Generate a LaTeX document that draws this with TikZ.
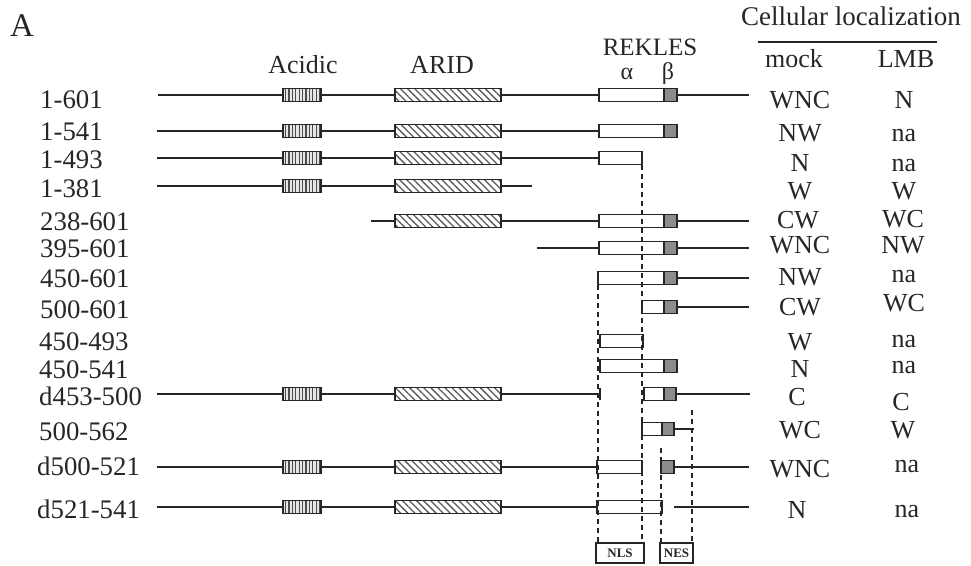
\documentclass[tikz,border=0pt]{standalone}
\usepackage{fontspec}
\setmainfont{Liberation Serif}
\usetikzlibrary{patterns.meta}
\newcommand\acidB[1]{\draw[acidbox] (283,#1-6.5) rectangle (321,#1+6.5);}
\newcommand\aridB[1]{\draw[aridbox] (395,#1-6.5) rectangle (501,#1+6.5);}
\newcommand\whiteB[3]{\draw[wbox] (#1,#3-6.5) rectangle (#2,#3+6.5);}
\newcommand\grayB[3]{\draw[gbox] (#1,#3-6.5) rectangle (#2,#3+6.5);}
\newcommand\protL[3]{\draw[prot] (#1,#3) -- (#2,#3);}
\begin{document}
\begin{tikzpicture}[x=1pt,y=-1pt,
 ink/.style={black!85},
 prot/.style={line width=2.6pt, draw=black!85},
 bx/.style={line width=1.4pt, draw=black!85},
 wbox/.style={bx, fill=white},
 gbox/.style={bx, fill=black!45},
 acidbox/.style={bx, preaction={fill=black!10}, pattern={Lines[angle=90,distance=3.4pt,line width=1.2pt]}, pattern color=black!70},
 aridbox/.style={bx, preaction={fill=white}, pattern={Lines[angle=-45,distance=5pt,line width=1.3pt]}, pattern color=black!65},
 dsh/.style={line width=1.7pt, dash pattern=on 5pt off 4pt, draw=black!85},
 lab/.style={anchor=base west, inner sep=0pt, font=\fontsize{26.8}{28}\selectfont, text=black!85},
 loc/.style={anchor=base, inner sep=0pt, font=\fontsize{26}{28}\selectfont, text=black!85},
 tag/.style={draw=black!85, line width=1.3pt, inner sep=0pt, minimum height=20pt, font=\bfseries\fontsize{13}{13}\selectfont, text=black!85},
]
\useasboundingbox (0,0) rectangle (971,565);

% headings
\node[loc, font=\fontsize{33}{33}\selectfont] (panel) at (22,36) {A};
\node[loc] (hacid) at (303,73) {Acidic};
\node[loc] (harid) at (442,73) {ARID};
\node[loc, font=\fontsize{25}{26}\selectfont] (hrek) at (650,55) {REKLES};
\node[loc, font=\fontsize{24}{26}\selectfont] (halpha) at (627,79) {α};
\node[loc, font=\fontsize{24}{26}\selectfont] (hbeta) at (668,79) {β};
\node[loc, font=\fontsize{27}{28}\selectfont] (hcell) at (851,25) {Cellular localization};
\draw[line width=2.5pt, ink] (758,42) -- (937,42);
\node[loc] (hmock) at (794,67) {mock};
\node[loc] (hlmb) at (906,67) {LMB};

% row labels
\node[lab] (l1) at (40,108) {1-601};
\node[lab] (l2) at (40,140) {1-541};
\node[lab] (l3) at (40,168) {1-493};
\node[lab] (l4) at (40,197) {1-381};
\node[lab] (l5) at (40,230) {238-601};
\node[lab] (l6) at (40,257) {395-601};
\node[lab] (l7) at (40,287) {450-601};
\node[lab] (l8) at (40,318) {500-601};
\node[lab] (l9) at (39,350) {450-493};
\node[lab] (l10) at (39,378) {450-541};
\node[lab] (l11) at (39,405) {d453-500};
\node[lab] (l12) at (39,440) {500-562};
\node[lab] (l13) at (37,475) {d500-521};
\node[lab] (l14) at (37,518) {d521-541};

% localization columns
\node[loc] (m1) at (800,108) {WNC};  \node[loc] (b1) at (904,108) {N};
\node[loc] (m2) at (800,141) {NW};   \node[loc] (b2) at (904,141) {na};
\node[loc] (m3) at (800,171) {N};    \node[loc] (b3) at (904,171) {na};
\node[loc] (m4) at (800,199) {W};    \node[loc] (b4) at (904,199) {W};
\node[loc] (m5) at (798,228) {CW};   \node[loc] (b5) at (903,227) {WC};
\node[loc] (m6) at (800,253) {WNC};  \node[loc] (b6) at (903,253) {NW};
\node[loc] (m7) at (800,285) {NW};   \node[loc] (b7) at (904,282) {na};
\node[loc] (m8) at (800,315) {CW};   \node[loc] (b8) at (904,311) {WC};
\node[loc] (m9) at (800,350) {W};    \node[loc] (b9) at (904,347) {na};
\node[loc] (m10) at (800,377) {N};   \node[loc] (b10) at (904,373) {na};
\node[loc] (m11) at (797,405) {C};   \node[loc] (b11) at (901,410) {C};
\node[loc] (m12) at (800,438) {WC};  \node[loc] (b12) at (903,438) {W};
\node[loc] (m13) at (800,477) {WNC}; \node[loc] (b13) at (907,472) {na};
\node[loc] (m14) at (797,518) {N};   \node[loc] (b14) at (907,517) {na};

% constructs
% 1-601
\protL{158}{749}{95} \acidB{95} \aridB{95} \whiteB{599}{664}{95} \grayB{664}{677}{95}
% 1-541
\protL{157}{599}{131} \acidB{131} \aridB{131} \whiteB{599}{664}{131} \grayB{664}{677}{131}
% 1-493
\protL{157}{599}{158} \acidB{158} \aridB{158} \whiteB{599}{642}{158}
% 1-381
\protL{157}{532}{186} \acidB{186} \aridB{186}
% 238-601
\protL{371}{749}{221} \aridB{221} \whiteB{599}{664}{221} \grayB{664}{677}{221}
% 395-601
\protL{537}{749}{248} \whiteB{599}{664}{248} \grayB{664}{677}{248}
% 450-601
\protL{677}{749}{278} \whiteB{598}{664}{278} \grayB{664}{677}{278}
% 500-601
\protL{677}{749}{307} \whiteB{642}{664}{307} \grayB{664}{677}{307}
% 450-493
\whiteB{600}{643}{341}
% 450-541
\whiteB{600}{664}{366} \grayB{664}{677}{366}
% d453-500
\protL{157}{600}{394} \draw[prot] (600,388) -- (600,400);
\acidB{394} \aridB{394}
\protL{676}{750}{394} \whiteB{644}{664}{394} \grayB{664}{676}{394}
% 500-562
\protL{674}{694}{429} \whiteB{642}{662}{429} \grayB{662}{674}{429}
% d500-521
\protL{157}{597}{467} \acidB{467} \aridB{467} \whiteB{597}{642}{467}
\protL{674}{749}{467} \grayB{661}{674}{467}
% d521-541
\protL{157}{597}{507} \acidB{507} \aridB{507} \whiteB{597}{662}{507}
\protL{674}{749}{507}

% signal boxes
\node[tag, minimum width=48pt] (nls) at (620,553) {NLS};
\node[tag, minimum width=33pt] (nes) at (676.5,553) {NES};

% dashed guides
\coordinate (d1) at (598,285);
\coordinate (d2) at (642,165);
\coordinate (d3) at (661,448);
\coordinate (d4) at (692,410);
\draw[dsh] (d1) -- (d1 |- nls.north);
\draw[dsh] (d2) -- (d2 |- nls.north);
\draw[dsh] (d3) -- (d3 |- nes.north);
\draw[dsh] (d4) -- (d4 |- nes.north);
\end{tikzpicture}
\end{document}
